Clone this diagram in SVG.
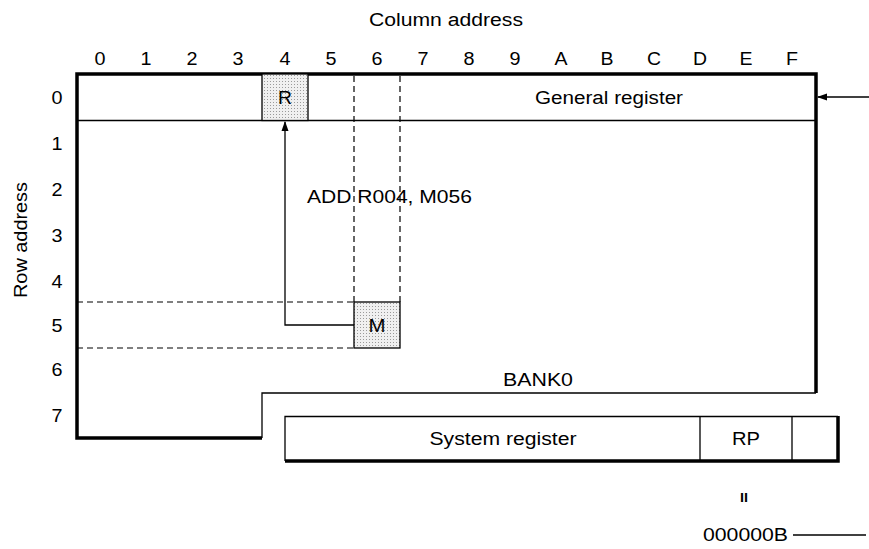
<svg xmlns="http://www.w3.org/2000/svg" width="869" height="549" viewBox="0 0 869 549">
<style>
text{font-family:"Liberation Sans",Arial,sans-serif;font-size:18px;fill:#000}
.lbl{text-anchor:middle}
.thin{fill:none;stroke:#000;stroke-width:1.3}
.thick{fill:none;stroke:#000;stroke-width:3.5}
.dash{fill:none;stroke:#000;stroke-width:1.2;stroke-dasharray:6 4}
</style>
<defs>
<pattern id="dots" width="3" height="3" patternUnits="userSpaceOnUse">
<rect width="3" height="3" fill="#f0f0f0"/>
<rect width="1" height="1" fill="#9a9a9a"/>
</pattern>
<marker id="ah" markerWidth="10" markerHeight="10" refX="9" refY="5" orient="auto" markerUnits="userSpaceOnUse">
<path d="M0,1.5 L10,5 L0,8.5 Z" fill="#000"/>
</marker>
</defs>

<text class="lbl" x="446" y="26" textLength="154" lengthAdjust="spacingAndGlyphs">Column address</text>
<g id="col-labels">
<text class="lbl" x="100" y="65" textLength="11" lengthAdjust="spacingAndGlyphs">0</text>
<text class="lbl" x="146" y="65" textLength="11" lengthAdjust="spacingAndGlyphs">1</text>
<text class="lbl" x="192" y="65" textLength="11" lengthAdjust="spacingAndGlyphs">2</text>
<text class="lbl" x="238" y="65" textLength="11" lengthAdjust="spacingAndGlyphs">3</text>
<text class="lbl" x="285" y="65" textLength="11" lengthAdjust="spacingAndGlyphs">4</text>
<text class="lbl" x="331" y="65" textLength="11" lengthAdjust="spacingAndGlyphs">5</text>
<text class="lbl" x="377" y="65" textLength="11" lengthAdjust="spacingAndGlyphs">6</text>
<text class="lbl" x="423" y="65" textLength="11" lengthAdjust="spacingAndGlyphs">7</text>
<text class="lbl" x="469" y="65" textLength="11" lengthAdjust="spacingAndGlyphs">8</text>
<text class="lbl" x="515" y="65" textLength="11" lengthAdjust="spacingAndGlyphs">9</text>
<text class="lbl" x="561" y="65" textLength="13" lengthAdjust="spacingAndGlyphs">A</text>
<text class="lbl" x="607" y="65" textLength="13" lengthAdjust="spacingAndGlyphs">B</text>
<text class="lbl" x="654" y="65" textLength="14" lengthAdjust="spacingAndGlyphs">C</text>
<text class="lbl" x="700" y="65" textLength="14" lengthAdjust="spacingAndGlyphs">D</text>
<text class="lbl" x="746" y="65" textLength="13" lengthAdjust="spacingAndGlyphs">E</text>
<text class="lbl" x="792" y="65" textLength="12" lengthAdjust="spacingAndGlyphs">F</text>
</g>
<g id="row-labels">
<text class="lbl" x="57" y="104" textLength="11" lengthAdjust="spacingAndGlyphs">0</text>
<text class="lbl" x="57" y="150" textLength="11" lengthAdjust="spacingAndGlyphs">1</text>
<text class="lbl" x="57" y="196" textLength="11" lengthAdjust="spacingAndGlyphs">2</text>
<text class="lbl" x="57" y="242" textLength="11" lengthAdjust="spacingAndGlyphs">3</text>
<text class="lbl" x="57" y="288" textLength="11" lengthAdjust="spacingAndGlyphs">4</text>
<text class="lbl" x="57" y="332" textLength="11" lengthAdjust="spacingAndGlyphs">5</text>
<text class="lbl" x="57" y="376" textLength="11" lengthAdjust="spacingAndGlyphs">6</text>
<text class="lbl" x="57" y="422" textLength="11" lengthAdjust="spacingAndGlyphs">7</text>
</g>
<text class="lbl" transform="translate(27,240) rotate(-90)" x="0" y="0" textLength="116" lengthAdjust="spacingAndGlyphs">Row address</text>

<g id="bank0">
<path class="thin" d="M816,393 H262 V438"/>
<line class="thin" x1="77" y1="120.5" x2="816" y2="120.5"/>
<path class="thick" d="M816,393 V74 H77 V438 H262"/>
<text class="lbl" x="538" y="386" textLength="70" lengthAdjust="spacingAndGlyphs">BANK0</text>
<text class="lbl" x="609" y="104" textLength="148" lengthAdjust="spacingAndGlyphs">General register</text>
</g>

<g id="R">
<rect x="262" y="74" width="46" height="46.5" fill="url(#dots)" stroke="#000" stroke-width="1.3"/>
<text class="lbl" x="285" y="104" textLength="14" lengthAdjust="spacingAndGlyphs">R</text>
</g>
<g id="M">
<rect x="354" y="302" width="46" height="46" fill="url(#dots)" stroke="#000" stroke-width="1.3"/>
<text class="lbl" x="377" y="332" textLength="17" lengthAdjust="spacingAndGlyphs">M</text>
</g>

<g id="guides">
<line class="dash" x1="354" y1="76" x2="354" y2="302"/>
<line class="dash" x1="400" y1="76" x2="400" y2="302"/>
<line class="dash" x1="77" y1="302" x2="354" y2="302"/>
<line class="dash" x1="77" y1="348" x2="354" y2="348"/>
</g>

<text x="307" y="203" textLength="165" lengthAdjust="spacingAndGlyphs">ADD R004, M056</text>

<g id="connectors">
<path class="thin" d="M354,325 H285 V122" marker-end="url(#ah)"/>
<line class="thin" x1="869" y1="97" x2="818" y2="97" marker-end="url(#ah)"/>
<line class="thin" x1="793" y1="535" x2="866" y2="535"/>
</g>

<g id="system-register">
<path class="thin" d="M285,461 V416.5 H838 M700,416.5 V461 M792,416.5 V461"/>
<path class="thick" d="M285,461 H838 V416"/>
<text class="lbl" x="503" y="445" textLength="147" lengthAdjust="spacingAndGlyphs">System register</text>
<text class="lbl" x="746" y="445" textLength="28" lengthAdjust="spacingAndGlyphs">RP</text>
</g>

<text class="lbl" x="744" y="502" style="font-size:12px;font-weight:bold" textLength="8" lengthAdjust="spacingAndGlyphs">II</text>
<text x="703" y="541" textLength="85" lengthAdjust="spacingAndGlyphs">000000B</text>
</svg>
